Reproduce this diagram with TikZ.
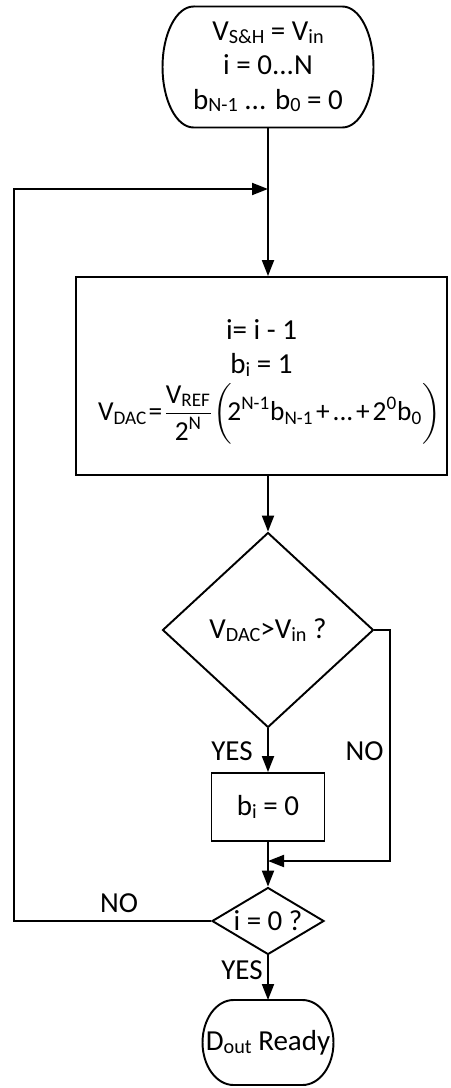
\documentclass[tikz,border=0pt]{standalone}
\usepackage{fontspec}
\usepackage{amsmath}
\setmainfont{Carlito}
\usetikzlibrary{shapes.geometric, arrows.meta, positioning}

\newcommand{\fcfont}{\fontsize{16.5}{19.5}\selectfont}
\newcommand{\fcsub}[1]{\raisebox{-0.1em}{\fontsize{11.5}{12}\selectfont #1}}
\newcommand{\fcplus}{\mskip2mu\text{+}\mskip2mu}
% Stadium outline with elliptical ends round a node
\newcommand{\fcterminal}[2]{%
  \draw[fc line] ([xshift=0.62cm]#1.north west) -- ([xshift=-0.62cm]#1.north east)
    arc[start angle=90, end angle=-90, x radius=0.62cm, y radius=#2]
    -- ([xshift=0.62cm]#1.south west)
    arc[start angle=270, end angle=90, x radius=0.62cm, y radius=#2] -- cycle;}

\tikzset{
    fc line/.style={line width=1.1pt, black},
    fc arrow/.style={fc line, -{Triangle[length=0.32cm, width=0.24cm]}},
    fc term/.style={rectangle, align=center, inner sep=0pt, outer sep=0pt},
    fc proc/.style={rectangle, draw, line width=1.1pt, align=center, inner sep=0pt},
    fc dec/.style={diamond, draw, line width=1.1pt, align=center, inner sep=0pt},
    fc lbl/.style={inner sep=0pt},
}

\begin{document}
\begin{tikzpicture}[x=0.02cm, y=-0.02cm, font=\fcfont]
    \useasboundingbox (0,0) rectangle (450,1088);
    % Start
    \node[fc term, minimum width=4.22cm, minimum height=2.42cm] (init) at (268,67)
        {V\fcsub{S\&H} = V\fcsub{in}\\ i = 0...N\\ b\fcsub{N-1} ... b\fcsub{0} = 0};
    \fcterminal{init}{1.21cm}
    \coordinate (join) at (268,189);
    % Next bit
    \node[fc proc, minimum width=7.42cm, minimum height=3.96cm] (step) at (261.5,376)
        {\rule{0pt}{18pt}i= i - 1\\ b\fcsub{i} = 1\\[3pt]
         \hspace*{0.16cm}{\fontsize{15.6}{18}\selectfont
         $\text{V}_{\text{DAC}}\mskip1mu{\text{=}}\mskip1mu\dfrac{\text{V}_{\text{REF}}}{\text{2}^{\text{N}}}
          \biggl(\!\text{2}^{\text{N-1}}\text{b}_{\text{N-1}}\fcplus\text{...}
          \fcplus\text{2}^{\text{0}}\text{b}_{\text{0}}\biggr)$}\hspace*{-0.16cm}};
    % Compare
    \node[fc dec, minimum width=4.22cm, minimum height=3.9cm] (cmp) at (268,630)
        {V\fcsub{DAC}>V\fcsub{in} ?};
    \node[fc proc, minimum width=2.26cm, minimum height=1.36cm] (clr) at (268,807)
        {b\fcsub{i} = 0};
    \coordinate (merge) at (268,861);
    \coordinate (noright) at (390,861);
    % Last bit?
    \node[fc dec, minimum width=2.24cm, minimum height=1.34cm, shape aspect=1.67] (last)
        at (268,921) {i = 0 ?};
    \coordinate (noleft) at (14,189);
    % Done
    \node[fc term, minimum width=2.62cm, minimum height=1.7cm] (ready) at (268,1042.5)
        {D\fcsub{out} Ready};
    \fcterminal{ready}{0.85cm}
    % Connectors
    \draw[fc line] (init.south) -- (join);
    \draw[fc arrow] (join) -- (join |- step.north);
    \draw[fc arrow] (join |- step.south) -- (cmp.north);
    \draw[fc arrow] (cmp.south) -- (clr.north);
    \draw[fc arrow] (clr.south) -- (last.north);
    \draw[fc arrow] (cmp.east) -| (noright) -- (merge);
    \draw[fc arrow] (last.west) -| (noleft) -- (join);
    \draw[fc arrow] (last.south) -- (ready.north);
    % Branch labels
    \node[fc lbl, anchor=east] (yes1) at (253,751) {YES};
    \node[fc lbl, anchor=east] (no1) at (384,751) {NO};
    \node[fc lbl] (no2) at (119,903) {NO};
    \node[fc lbl, anchor=east] (yes2) at (263,970) {YES};
\end{tikzpicture}
\end{document}
